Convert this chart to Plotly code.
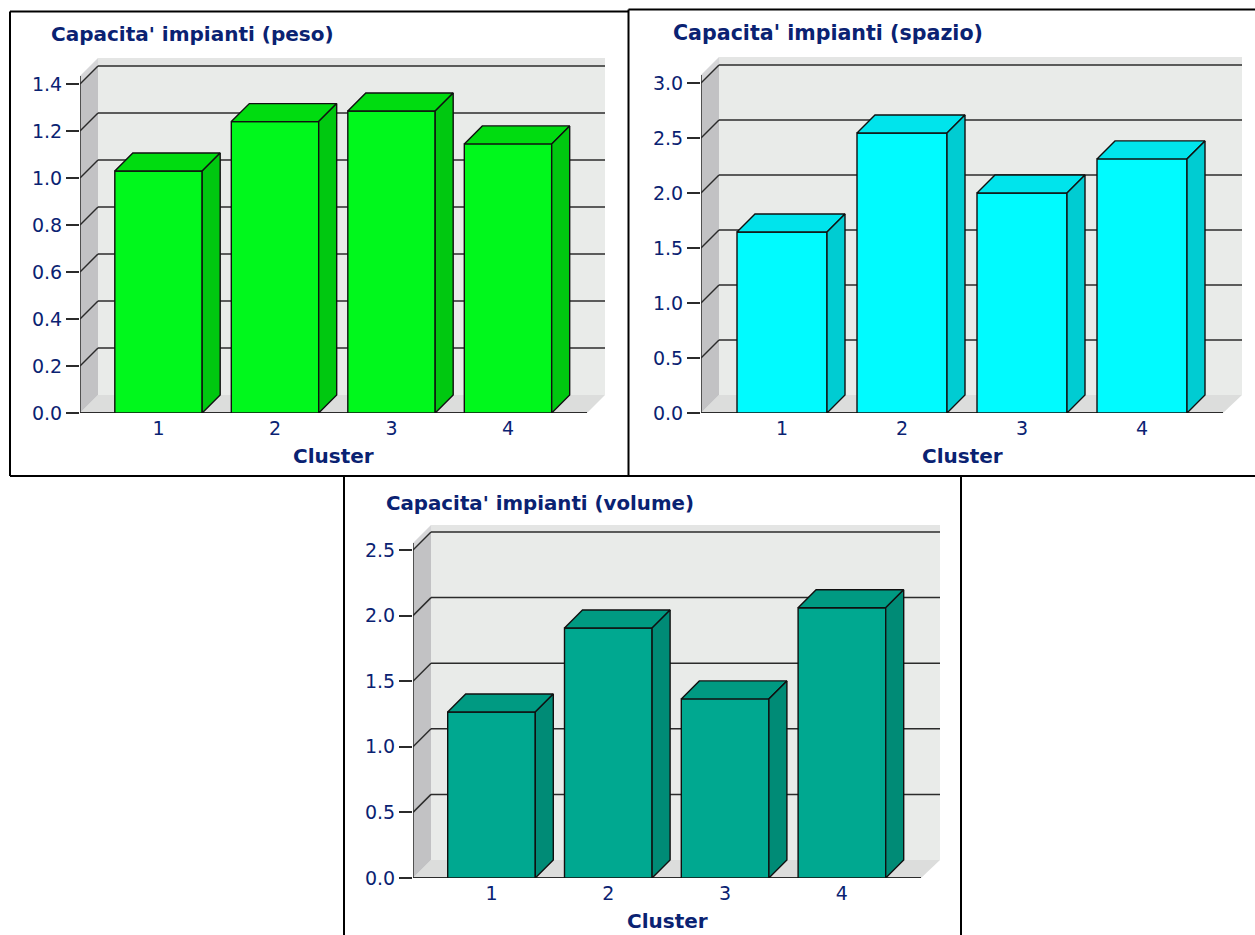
import plotly.graph_objects as go

W, H = 1255, 935
clusters = [1, 2, 3, 4]

titles = ["Capacita' impianti (peso)", "Capacita' impianti (spazio)", "Capacita' impianti (volume)"]
peso_values = [1.03, 1.24, 1.285, 1.145]
spazio_values = [1.645, 2.545, 2.0, 2.31]
volume_values = [1.265, 1.905, 1.365, 2.06]
peso_ticks = [0.0, 0.2, 0.4, 0.6, 0.8, 1.0, 1.2, 1.4]
spazio_ticks = [0.0, 0.5, 1.0, 1.5, 2.0, 2.5, 3.0]
volume_ticks = [0.0, 0.5, 1.0, 1.5, 2.0, 2.5]

NAVY = "#0a2272"
LINE = "#2b2b2b"
WALL_BACK = "#e9ebe9"
WALL_TOP = "#e4e5e4"
WALL_SIDE = "#c2c2c4"
WALL_SIDE_TOP = "#d6d6d8"
FLOOR = "#dcdddc"
DEPTH = 18  # pixel depth of the pseudo-3D projection
FONT = "DejaVu Sans"

# Each panel: plot box in page pixels, centre of the first bar and bar spacing.
panels = [
    dict(values=peso_values, ticks=peso_ticks, colors=("#00f81c", "#00dc10", "#00c810"),
         left=80, right=605, floor_right=587, base=413, top=58, top_tick_px=84,
         first=158.5, step=116.5, width=0.75, title_x=49, title_y=34, title_size=20),
    dict(values=spazio_values, ticks=spazio_ticks, colors=("#00fbff", "#00e4ec", "#00ccd2"),
         left=701, right=1242, floor_right=1223, base=413, top=57, top_tick_px=83,
         first=782, step=120, width=0.75, title_x=671, title_y=33, title_size=20.6),
    dict(values=volume_values, ticks=volume_ticks, colors=("#00a890", "#009a82", "#008b76"),
         left=413, right=940, floor_right=921, base=878, top=525, top_tick_px=550,
         first=491.5, step=116.8, width=0.75, title_x=384, title_y=503, title_size=19.8),
]

fig = go.Figure()
shapes = []
annotations = []


def poly(points):
    return "M " + " L ".join(f"{x} {y}" for x, y in points) + " Z"


for i, p in enumerate(panels):
    suffix = "" if i == 0 else str(i + 1)
    xref, yref = f"x{suffix}", f"y{suffix}"
    px_x = p["step"]
    px_y = (p["base"] - p["top_tick_px"]) / p["ticks"][-1]
    x0 = 1 + (p["left"] - p["first"]) / px_x
    x1 = 1 + (p["right"] - p["first"]) / px_x
    x_floor = 1 + (p["floor_right"] - p["first"]) / px_x
    y1 = (p["base"] - p["top"]) / px_y
    dx, dy = DEPTH / px_x, DEPTH / px_y
    top_tick = p["ticks"][-1]

    def area(points, color):
        shapes.append(dict(type="path", path=poly(points), xref=xref, yref=yref,
                           fillcolor=color, line=dict(width=0), layer="below"))

    def stroke(xa, ya, xb, yb, width=1.5):
        shapes.append(dict(type="line", x0=xa, y0=ya, x1=xb, y1=yb, xref=xref, yref=yref,
                           line=dict(color=LINE, width=width), layer="below"))

    # Walls and floor of the box behind the bars
    area([(x0 + dx, dy), (x1, dy), (x1, y1), (x0 + dx, y1)], WALL_BACK)
    area([(x0 + dx, top_tick + dy), (x1, top_tick + dy), (x1, y1), (x0 + dx, y1)], WALL_TOP)
    area([(x0, 0), (x_floor, 0), (x1, dy), (x0 + dx, dy)], FLOOR)
    area([(x0, 0), (x0 + dx, dy), (x0 + dx, top_tick + dy), (x0, top_tick)], WALL_SIDE)
    area([(x0, top_tick), (x0 + dx, top_tick + dy), (x0 + dx, y1), (x0, y1 - dy)], WALL_SIDE_TOP)

    # Grid lines wrap from the side wall onto the back wall
    for v in p["ticks"][1:]:
        stroke(x0, v, x0 + dx, v + dy)
        stroke(x0 + dx, v + dy, x1, v + dy)
    stroke(x0, 0, x0, y1 - dy, 1.5)
    stroke(x0, 0, x_floor, 0, 1.8)

    fig.add_trace(go.Bar(x=clusters, y=p["values"], width=p["width"], xaxis=xref, yaxis=yref,
                         marker=dict(color=p["colors"][0], line=dict(color="#101010", width=1.4)),
                         hoverinfo="x+y", showlegend=False))

    half = p["width"] / 2
    top_x, top_y, side_x, side_y = [], [], [], []
    for c, v in zip(clusters, p["values"]):
        l, r = c - half, c + half
        top_x += [l, r, r + dx, l + dx, l, None]
        top_y += [v, v, v + dy, v + dy, v, None]
        side_x += [r, r + dx, r + dx, r, r, None]
        side_y += [0, dy, v + dy, v, 0, None]
    for xs, ys, color in ((top_x, top_y, p["colors"][1]), (side_x, side_y, p["colors"][2])):
        fig.add_trace(go.Scatter(x=xs, y=ys, xaxis=xref, yaxis=yref, mode="lines", fill="toself",
                                 fillcolor=color, line=dict(color="#101010", width=1.4),
                                 hoverinfo="skip", showlegend=False))

    fig.update_layout({
        f"xaxis{suffix}": dict(
            domain=[p["left"] / W, p["right"] / W], range=[x0, x1], anchor=yref, automargin=False,
            tickmode="array", tickvals=clusters, ticktext=[str(c) for c in clusters],
            ticks="", showline=False, showgrid=False, zeroline=False, ticklabelstandoff=2,
            tickfont=dict(family=FONT, size=19, color=NAVY),
        ),
        f"yaxis{suffix}": dict(
            domain=[1 - p["base"] / H, 1 - p["top"] / H], range=[0, y1], anchor=xref, automargin=False,
            tickmode="array", tickvals=p["ticks"], ticktext=[f"{t:.1f}" for t in p["ticks"]],
            ticks="outside", ticklen=13, tickwidth=1.5, tickcolor=LINE,
            showline=False, showgrid=False, zeroline=False,
            tickfont=dict(family=FONT, size=19, color=NAVY),
        ),
    })

    annotations.append(dict(text=f"<b>{titles[i]}</b>", xref="paper", yref="paper",
                            x=p["title_x"] / W, y=1 - p["title_y"] / H,
                            xanchor="left", yanchor="middle", showarrow=False,
                            font=dict(family=FONT, size=p["title_size"], color=NAVY)))
    annotations.append(dict(text="<b>Cluster</b>", xref="paper", yref="paper",
                            x=(p["left"] + p["floor_right"]) / 2 / W, y=1 - (p["base"] + 43) / H,
                            xanchor="center", yanchor="middle", showarrow=False,
                            font=dict(family=FONT, size=20, color=NAVY)))

# Black frames around the three charts
for xa, ya, xb, yb in [
    (10, 11.5, 628, 11.5), (10, 11.5, 10, 476), (10, 476, 1255, 476),
    (628.5, 9.5, 1255, 9.5), (628.5, 9.5, 628.5, 476),
    (344, 476, 344, 935), (961, 476, 961, 935),
]:
    shapes.append(dict(type="line", xref="paper", yref="paper",
                       x0=xa / W, x1=xb / W, y0=1 - ya / H, y1=1 - yb / H,
                       line=dict(color="black", width=2), layer="above"))

fig.update_layout(width=W, height=H, autosize=False, margin=dict(l=0, r=0, t=0, b=0, pad=0, autoexpand=False),
                  paper_bgcolor="white", plot_bgcolor="rgba(0,0,0,0)", barmode="overlay",
                  shapes=shapes, annotations=annotations, showlegend=False)
fig.write_html("out.html", config=dict(displayModeBar=False))
